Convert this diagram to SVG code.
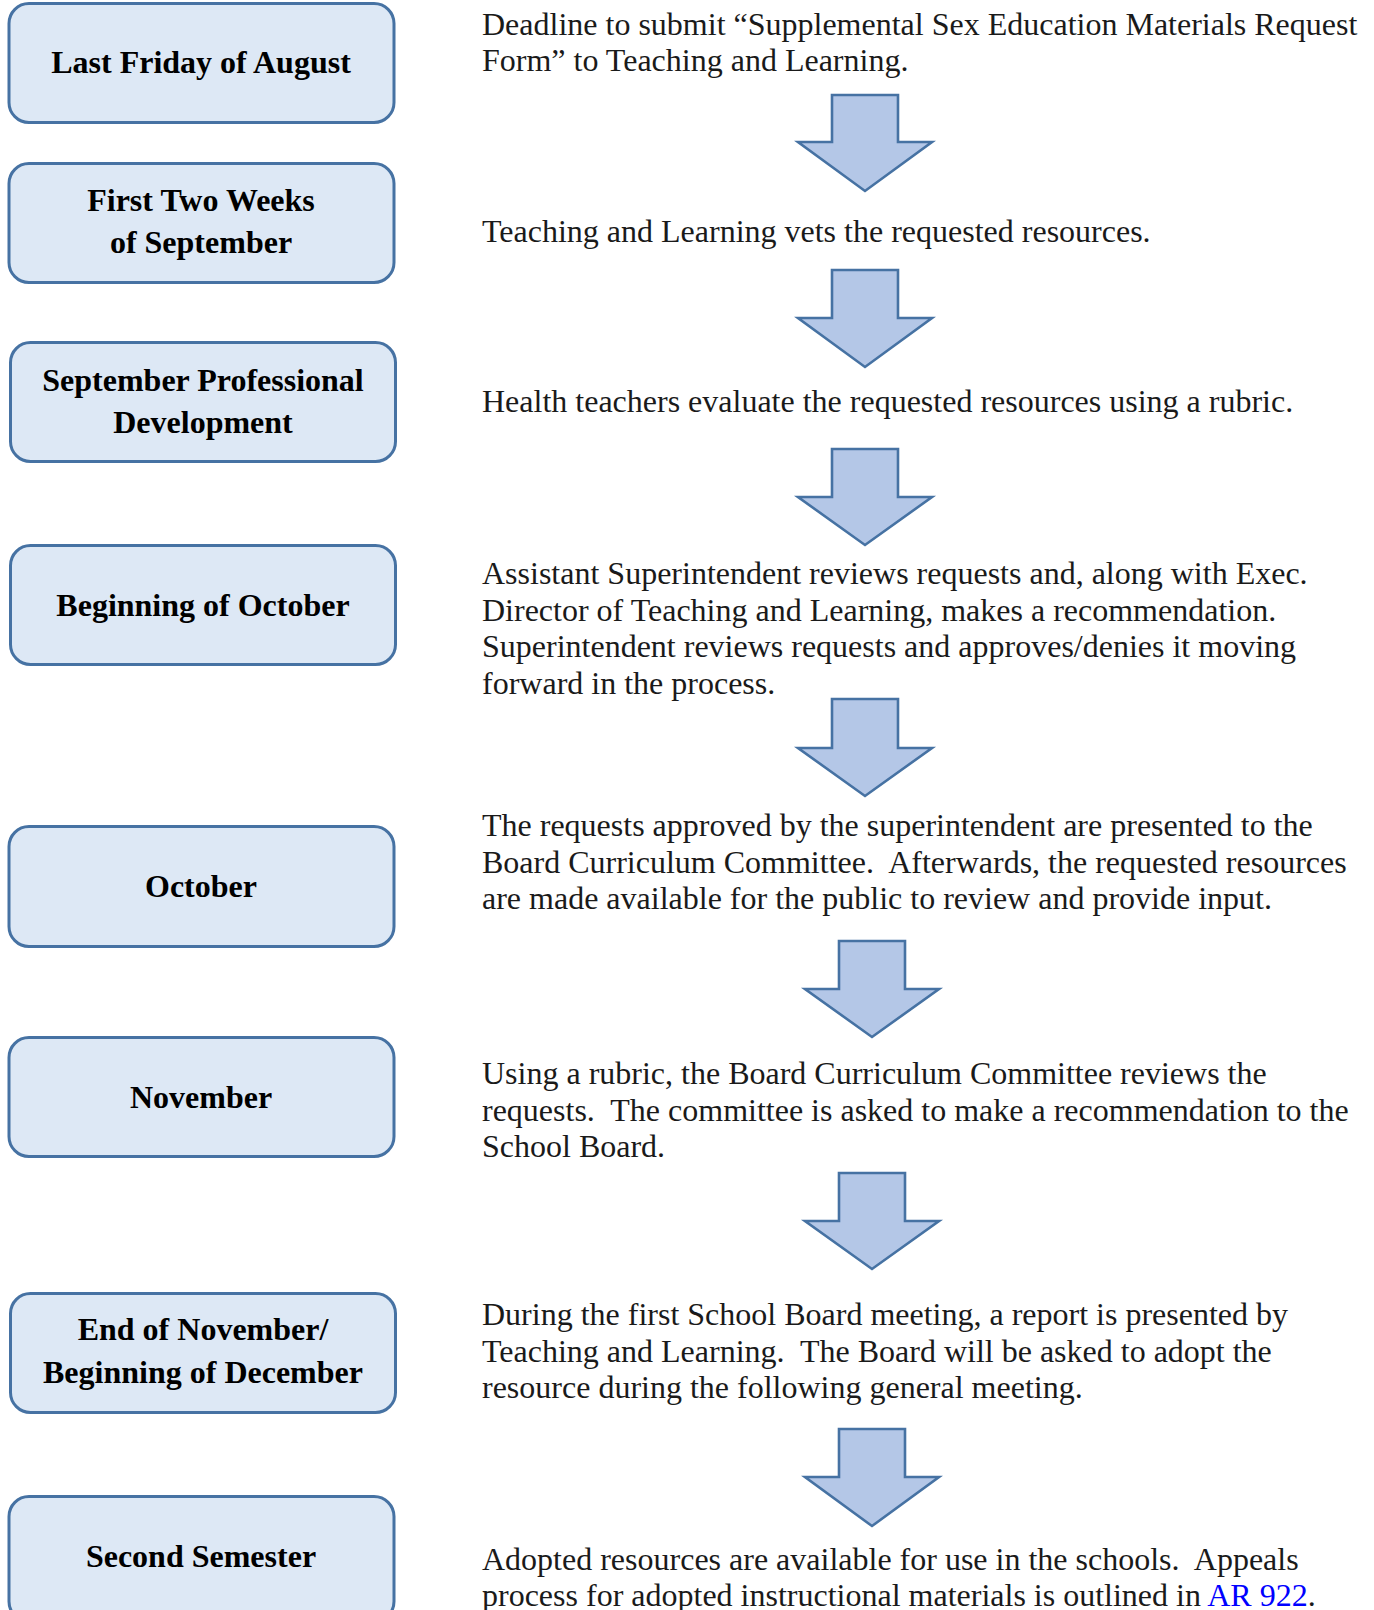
<svg xmlns="http://www.w3.org/2000/svg" width="1374" height="1610" viewBox="0 0 1374 1610">
<style>
.box{fill:#dde8f5;stroke:#4672a3;stroke-width:3}
.lbl{font-family:"Liberation Serif","Times New Roman",serif;font-weight:bold;font-size:32px;fill:#000;text-anchor:middle}
.txt{font-family:"Liberation Serif","Times New Roman",serif;font-size:32px;fill:#1a1a1a;white-space:pre}
.arr{fill:#b4c7e7;stroke:#4672a3;stroke-width:2.6;stroke-linejoin:miter}
.link{fill:#0000ff}
</style>
<rect width="1374" height="1610" fill="#fff"/>
<g id="n1"><rect class="box" x="9" y="3.5" width="385" height="119" rx="20"/><text class="lbl" x="201" y="73">Last Friday of August</text></g>
<g id="n2"><rect class="box" x="9" y="163.5" width="385" height="119" rx="20"/><text class="lbl" x="201" y="211">First Two Weeks</text><text class="lbl" x="201" y="253">of September</text></g>
<g id="n3"><rect class="box" x="10.5" y="342.5" width="385" height="119" rx="20"/><text class="lbl" x="203" y="391">September Professional</text><text class="lbl" x="203" y="433">Development</text></g>
<g id="n4"><rect class="box" x="10.5" y="545.5" width="385" height="119" rx="20"/><text class="lbl" x="203" y="616">Beginning of October</text></g>
<g id="n5"><rect class="box" x="9" y="826.5" width="385" height="120" rx="20"/><text class="lbl" x="201" y="897">October</text></g>
<g id="n6"><rect class="box" x="9" y="1037.5" width="385" height="119" rx="20"/><text class="lbl" x="201" y="1108">November</text></g>
<g id="n7"><rect class="box" x="10.5" y="1293.5" width="385" height="119" rx="20"/><text class="lbl" x="203" y="1340">End of November/</text><text class="lbl" x="203" y="1383">Beginning of December</text></g>
<g id="n8"><rect class="box" x="9" y="1496.5" width="385" height="125" rx="20"/><text class="lbl" x="201" y="1567">Second Semester</text></g>

<g id="t1"><text class="txt" x="482" y="35">Deadline to submit “Supplemental Sex Education Materials Request</text><text class="txt" x="482" y="71">Form” to Teaching and Learning.</text></g>
<g id="t2"><text class="txt" x="482" y="242">Teaching and Learning vets the requested resources.</text></g>
<g id="t3"><text class="txt" x="482" y="412">Health teachers evaluate the requested resources using a rubric.</text></g>
<g id="t4"><text class="txt" x="482" y="584">Assistant Superintendent reviews requests and, along with Exec.</text><text class="txt" x="482" y="620.5">Director of Teaching and Learning, makes a recommendation.</text><text class="txt" x="482" y="657">Superintendent reviews requests and approves/denies it moving</text><text class="txt" x="482" y="693.5">forward in the process.</text></g>
<g id="t5"><text class="txt" x="482" y="836">The requests approved by the superintendent are presented to the</text><text class="txt" x="482" y="872.5">Board Curriculum Committee.  Afterwards, the requested resources</text><text class="txt" x="482" y="909">are made available for the public to review and provide input.</text></g>
<g id="t6"><text class="txt" x="482" y="1084">Using a rubric, the Board Curriculum Committee reviews the</text><text class="txt" x="482" y="1120.5">requests.  The committee is asked to make a recommendation to the</text><text class="txt" x="482" y="1157">School Board.</text></g>
<g id="t7"><text class="txt" x="482" y="1325">During the first School Board meeting, a report is presented by</text><text class="txt" x="482" y="1361.5">Teaching and Learning.  The Board will be asked to adopt the</text><text class="txt" x="482" y="1398">resource during the following general meeting.</text></g>
<g id="t8"><text class="txt" x="482" y="1570">Adopted resources are available for use in the schools.  Appeals</text><text class="txt" x="482" y="1606">process for adopted instructional materials is outlined in <tspan class="link">AR 922</tspan>.</text></g>

<g id="connectors">
<path class="arr" d="M832 95 H898 V142 H932 L865 191 L798 142 H832 Z"/>
<path class="arr" d="M832 270 H898 V318 H932 L865 367 L798 318 H832 Z"/>
<path class="arr" d="M832 449 H898 V497 H932 L865 545 L798 497 H832 Z"/>
<path class="arr" d="M832 699 H898 V748 H932 L865 796 L798 748 H832 Z"/>
<path class="arr" d="M839 941 H905 V989 H939 L872 1037 L805 989 H839 Z"/>
<path class="arr" d="M839 1173 H905 V1221 H939 L872 1269 L805 1221 H839 Z"/>
<path class="arr" d="M839 1429 H905 V1477 H939 L872 1526 L805 1477 H839 Z"/>
</g>
</svg>
